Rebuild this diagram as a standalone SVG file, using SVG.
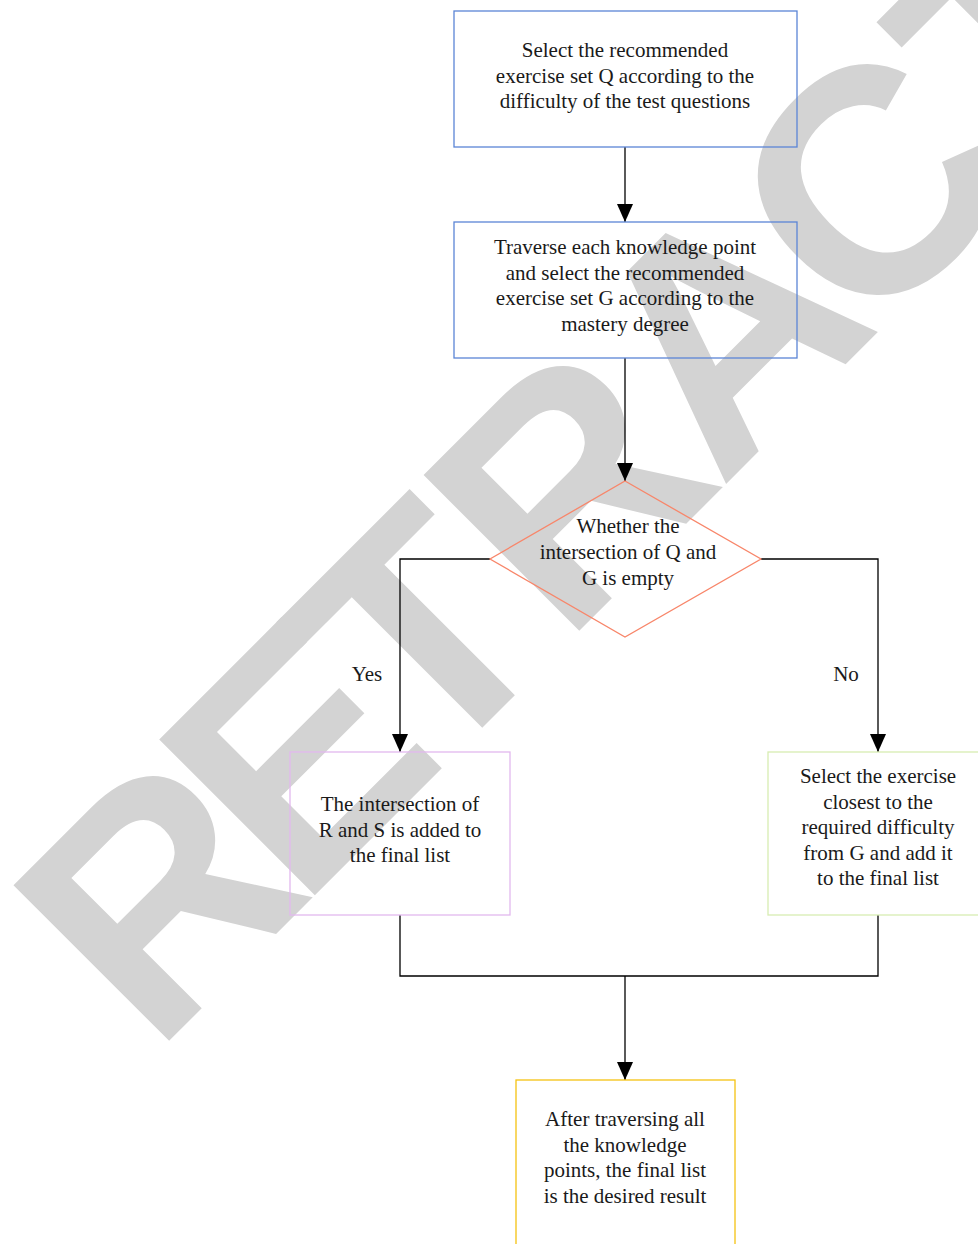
<svg xmlns="http://www.w3.org/2000/svg" width="978" height="1244" viewBox="0 0 978 1244">
<style>
.wm{font-family:"Liberation Sans",Arial,sans-serif;font-weight:bold;font-size:320px;fill:#d3d3d3}
.t{font-family:"Liberation Serif","Times New Roman",serif;font-size:21px;fill:#1a1a1a;text-anchor:middle}
.box{fill:none;stroke-width:1.3}
.con{fill:none;stroke:#000;stroke-width:1.3}
</style>
<defs>
<marker id="ah" markerWidth="18" markerHeight="16" refX="18" refY="8" orient="auto" markerUnits="userSpaceOnUse">
<path d="M0,0 L18,8 L0,16 Z" fill="#000"/>
</marker>
</defs>
<rect width="978" height="1244" fill="#fff"/>
<text class="wm" x="154" y="1056" dx="0 -25 -30 -5 -10 -25" transform="rotate(-45 154 1056)">RETRACTED</text>
<g id="connectors">
<line class="con" x1="625" y1="147" x2="625" y2="222" marker-end="url(#ah)"/>
<line class="con" x1="625" y1="358" x2="625" y2="481" marker-end="url(#ah)"/>
<polyline class="con" points="490,559 400,559 400,752" marker-end="url(#ah)"/>
<polyline class="con" points="761,559 878,559 878,752" marker-end="url(#ah)"/>
<polyline class="con" points="400,915 400,976 878,976 878,915"/>
<line class="con" x1="625" y1="976" x2="625" y2="1080" marker-end="url(#ah)"/>
<text class="t" x="367" y="681">Yes</text>
<text class="t" x="846" y="681">No</text>
</g>
<g id="n1">
<rect class="box" x="454" y="11" width="343" height="136" stroke="#5b85d6"/>
<text class="t" x="625" y="57">Select the recommended</text>
<text class="t" x="625" y="83">exercise set Q according to the</text>
<text class="t" x="625" y="108">difficulty of the test questions</text>
</g>
<g id="n2">
<rect class="box" x="454" y="222" width="343" height="136" stroke="#5b85d6"/>
<text class="t" x="625" y="254">Traverse each knowledge point</text>
<text class="t" x="625" y="280">and select the recommended</text>
<text class="t" x="625" y="305">exercise set G according to the</text>
<text class="t" x="625" y="331">mastery degree</text>
</g>
<g id="n3">
<polygon class="box" points="625,481 761,559 625,637 490,559" stroke="#f8866a"/>
<text class="t" x="628" y="533">Whether the</text>
<text class="t" x="628" y="559">intersection of Q and</text>
<text class="t" x="628" y="585">G is empty</text>
</g>
<g id="n4">
<rect class="box" x="290" y="752" width="220" height="163" stroke="#e2b8ee"/>
<text class="t" x="400" y="811">The intersection of</text>
<text class="t" x="400" y="837">R and S is added to</text>
<text class="t" x="400" y="862">the final list</text>
</g>
<g id="n5">
<rect class="box" x="768" y="752" width="222" height="163" stroke="#d8edb2"/>
<text class="t" x="878" y="783">Select the exercise</text>
<text class="t" x="878" y="809">closest to the</text>
<text class="t" x="878" y="834">required difficulty</text>
<text class="t" x="878" y="860">from G and add it</text>
<text class="t" x="878" y="885">to the final list</text>
</g>
<g id="n6">
<rect class="box" x="516" y="1080" width="219" height="180" stroke="#f5c211"/>
<text class="t" x="625" y="1126">After traversing all</text>
<text class="t" x="625" y="1152">the knowledge</text>
<text class="t" x="625" y="1177">points, the final list</text>
<text class="t" x="625" y="1203">is the desired result</text>
</g>
</svg>
